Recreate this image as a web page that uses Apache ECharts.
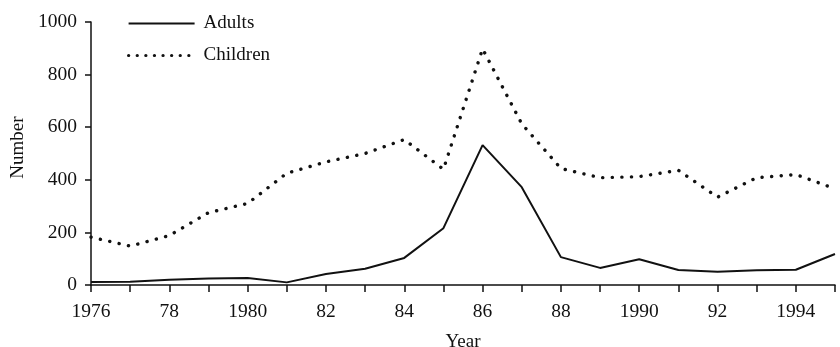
<!DOCTYPE html>
<html><head><meta charset="utf-8">
<script src="https://cdn.jsdelivr.net/npm/echarts@6/dist/echarts.min.js"></script>
<style>html,body{margin:0;padding:0;background:#fff}#c{width:840px;height:347px}</style>
</head><body><div id="c"></div>
<script>
const years = [1976,1977,1978,1979,1980,1981,1982,1983,1984,1985,1986,1987,1988,1989,1990,1991,1992,1993,1994,1995];
const adults = [11,12,20,25,27,10,42,62,103,216,532,372,106,65,98,57,50,56,58,118];
const children = [182,148,188,275,310,425,468,500,553,440,898,613,443,408,412,436,334,408,420,366];
const xTickLabels = {1976:'1976',1978:'78',1980:'1980',1982:'82',1984:'84',1986:'86',1988:'88',1990:'1990',1992:'92',1994:'1994'};
const yTicks = [0,200,400,600,800,1000];

const font = '"Liberation Serif", "DejaVu Serif", serif';
const chart = echarts.init(document.getElementById('c'));
chart.setOption({
  animation:false,
  backgroundColor:'#fff',
  grid:{left:91,right:5,top:22,bottom:62,containLabel:false,outerBoundsMode:'none'},
  legend:{
    orient:'vertical', left:122, top:9, itemWidth:66, itemHeight:12, itemGap:13,
    itemStyle:{opacity:0},
    textStyle:{fontFamily:font,fontSize:19,color:'#111',padding:[0,0,0,4]},
    data:[
      {name:'Adults', lineStyle:{width:2}},
      {name:'Children', lineStyle:{width:3.2,type:[0.1,8.5],cap:'round'}}
    ]
  },
  xAxis:{
    type:'value', min:1976, max:1995, interval:1,
    name:'Year', nameLocation:'middle', nameGap:48,
    nameTextStyle:{fontFamily:font,fontSize:19,color:'#111'},
    axisLine:{lineStyle:{color:'#111',width:1.5}},
    axisTick:{length:7,lineStyle:{color:'#111',width:1.5}},
    splitLine:{show:false},
    axisLabel:{fontFamily:font,fontSize:19.5,color:'#111',margin:17,
      formatter:v=>xTickLabels[v]||''}
  },
  yAxis:{
    type:'value', min:0, max:1000, interval:200,
    name:'Number', nameLocation:'middle', nameGap:61, nameRotate:90,
    nameTextStyle:{fontFamily:font,fontSize:19,color:'#111',padding:[0,0,0,12]},
    axisLine:{show:true,lineStyle:{color:'#111',width:1.5}},
    axisTick:{show:true,length:6,lineStyle:{color:'#111',width:1.5}},
    splitLine:{show:false},
    axisLabel:{fontFamily:font,fontSize:19.5,color:'#111',margin:14,
      formatter:v=>yTicks.includes(v)?String(v):''}
  },
  series:[
    {name:'Adults',type:'line',symbol:'none',data:years.map((y,i)=>[y,adults[i]]),
     lineStyle:{color:'#111',width:2}, itemStyle:{color:'#111'}},
    {name:'Children',type:'line',symbol:'none',data:years.map((y,i)=>[y,children[i]]),
     lineStyle:{color:'#111',width:3.4,type:[0.1,9.5],cap:'round'}, itemStyle:{color:'#111'}}
  ]
});
</script></body></html>
